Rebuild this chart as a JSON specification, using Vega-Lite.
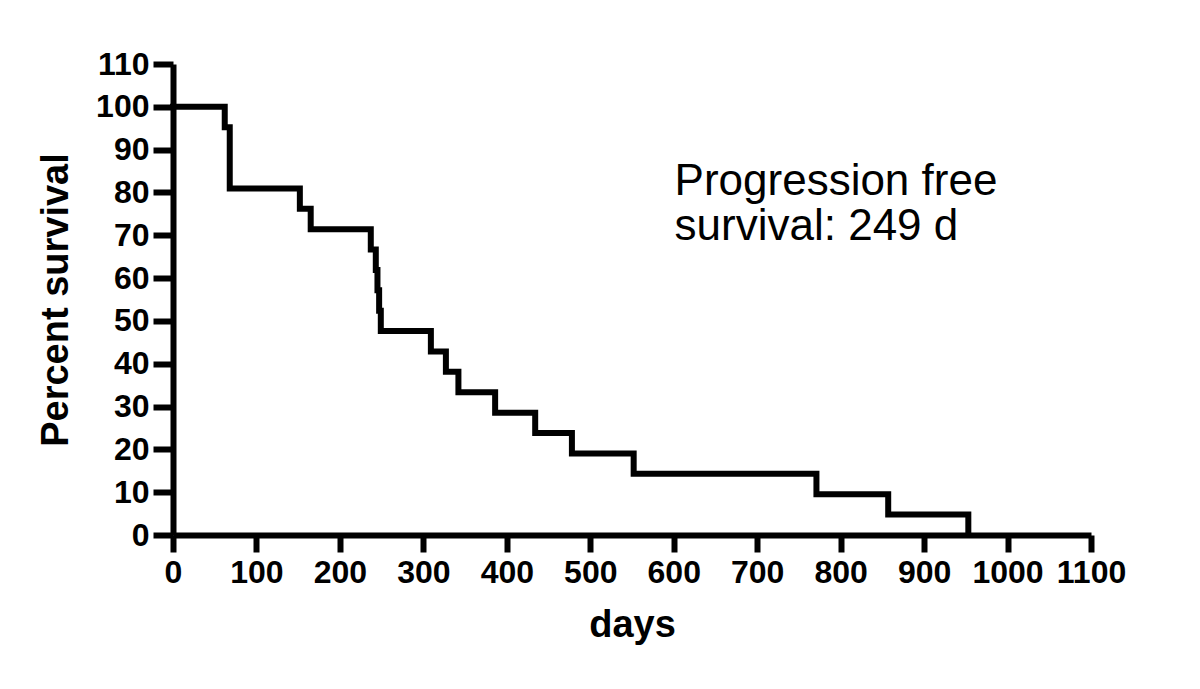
{
  "$schema": "https://vega.github.io/schema/vega-lite/v6.json",
  "autosize": "none",
  "width": 918,
  "height": 471,
  "padding": {"left": 173, "top": 64, "right": 109, "bottom": 154},
  "background": "white",
  "config": {
    "view": {"stroke": null},
    "axis": {
      "grid": false,
      "domainColor": "black",
      "domainWidth": 6,
      "tickColor": "black",
      "tickWidth": 6,
      "labelFont": "Liberation Sans",
      "labelFontWeight": "bold",
      "labelFontSize": 32,
      "labelColor": "black",
      "titleFont": "Liberation Sans",
      "titleFontWeight": "bold",
      "titleFontSize": 38,
      "titleColor": "black"
    }
  },
  "layer": [
    {
      "data": {"values": [
        {"day": 0, "pct": 100},
        {"day": 62, "pct": 95.24},
        {"day": 68, "pct": 80.95},
        {"day": 152, "pct": 76.19},
        {"day": 165, "pct": 71.43},
        {"day": 237, "pct": 66.67},
        {"day": 243, "pct": 61.9},
        {"day": 245, "pct": 57.14},
        {"day": 247, "pct": 52.38},
        {"day": 249, "pct": 47.62},
        {"day": 309, "pct": 42.86},
        {"day": 327, "pct": 38.1},
        {"day": 342, "pct": 33.33},
        {"day": 386, "pct": 28.57},
        {"day": 434, "pct": 23.81},
        {"day": 478, "pct": 19.05},
        {"day": 552, "pct": 14.29},
        {"day": 771, "pct": 9.52},
        {"day": 857, "pct": 4.76},
        {"day": 953, "pct": 0}
      ]},
      "mark": {"type": "line", "interpolate": "step-after", "color": "black", "strokeWidth": 6, "strokeCap": "square", "clip": false},
      "encoding": {
        "x": {"field": "day", "type": "quantitative",
              "scale": {"domain": [0, 1100], "nice": false, "zero": false},
              "axis": {"title": "days", "format": "d", "values": [0,100,200,300,400,500,600,700,800,900,1000,1100],
                       "tickSize": 17, "labelPadding": 5, "titlePadding": 18, "labelFlush": false, "labelOverlap": false}},
        "y": {"field": "pct", "type": "quantitative",
              "scale": {"domain": [0, 110], "nice": false},
              "axis": {"title": "Percent survival", "format": "d", "values": [0,10,20,30,40,50,60,70,80,90,100,110],
                       "tickSize": 20, "labelPadding": 4, "titlePadding": 20, "labelFlush": false, "labelOverlap": false}}
      }
    },
    {
      "data": {"values": [
        {"day": 601, "pct": 79.4, "label": "Progression free\nsurvival: 249 d"}
      ]},
      "mark": {"type": "text", "align": "left", "baseline": "alphabetic", "font": "Liberation Sans", "fontSize": 44, "lineHeight": 45, "lineBreak": "\n", "color": "black"},
      "encoding": {
        "x": {"field": "day", "type": "quantitative"},
        "y": {"field": "pct", "type": "quantitative"},
        "text": {"field": "label", "type": "nominal"}
      }
    }
  ]
}
